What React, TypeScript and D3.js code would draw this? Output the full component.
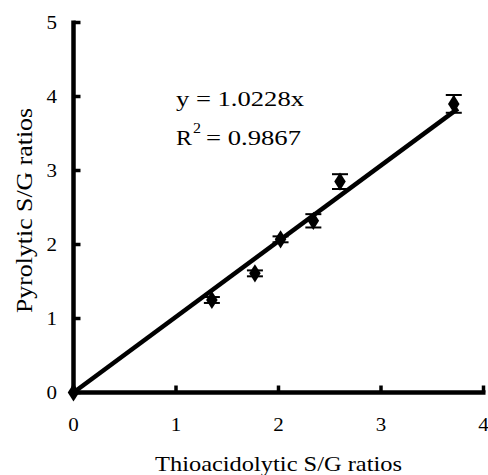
import React from "react";
import * as d3 from "d3";

const xValues = [0, 1.35, 1.77, 2.02, 2.34, 2.6, 3.71];
const yValues = [0, 1.25, 1.61, 2.07, 2.32, 2.85, 3.9];
const yErrors = [0, 0.04, 0.04, 0.04, 0.09, 0.1, 0.12];
const xTicks = [0, 1, 2, 3, 4];
const yTicks = [0, 1, 2, 3, 4, 5];
const slope = 1.0228;
const fitXMax = 3.75;
const eqText = "y = 1.0228x";
const r2Value = "= 0.9867";
const xTitle = "Thioacidolytic S/G ratios";
const yTitle = "Pyrolytic S/G ratios";

const W = 488;
const H = 475;
const FONT = "'Liberation Serif', 'Times New Roman', Times, serif";

export default function App() {
  const x = d3.scaleLinear().domain([0, 4]).range([73.5, 483.5]);
  const y = d3.scaleLinear().domain([0, 5]).range([392.5, 22.5]);
  const fit = d3
    .line<number>()
    .x((d) => x(d))
    .y((d) => y(slope * d));
  const diamond = d3.symbol().type(d3.symbolDiamond).size(95)();
  const ts: React.CSSProperties = { fontFamily: FONT };
  const digitW = 10.5;

  return (
    <svg
      width={W}
      height={H}
      style={{ position: "absolute", left: 0, top: 0, background: "#fff", fontFamily: FONT }}
    >
      {/* fit line */}
      <path d={fit([0, fitXMax]) || ""} stroke="#000" strokeWidth={4.5} fill="none" />

      {/* axes */}
      <line x1={x(0)} x2={x(0)} y1={y(0) + 2} y2={y(5) - 2} stroke="#000" strokeWidth={4.5} />
      <line x1={x(0) - 2} x2={x(4) + 2} y1={y(0)} y2={y(0)} stroke="#000" strokeWidth={4.5} />
      {yTicks.map((t) => (
        <line key={"yt" + t} x1={x(0)} x2={x(0) + 7} y1={y(t)} y2={y(t)} stroke="#000" strokeWidth={3.5} />
      ))}
      {xTicks.map((t) => (
        <line key={"xt" + t} x1={x(t)} x2={x(t)} y1={y(0)} y2={y(0) - 7} stroke="#000" strokeWidth={3.5} />
      ))}

      {/* tick labels */}
      {yTicks.map((t) => (
        <text
          key={"yl" + t}
          x={57 - digitW}
          y={y(t) + 6.5}
          fontSize={18}
          textLength={digitW}
          lengthAdjust="spacingAndGlyphs"
          style={ts}
        >
          {t}
        </text>
      ))}
      {xTicks.map((t) => (
        <text
          key={"xl" + t}
          x={x(t) - digitW / 2}
          y={431}
          fontSize={18}
          textLength={digitW}
          lengthAdjust="spacingAndGlyphs"
          style={ts}
        >
          {t}
        </text>
      ))}

      {/* error bars and markers */}
      {xValues.map((xv, i) => {
        const cx = x(xv);
        const cy = y(yValues[i]);
        const e = yErrors[i];
        return (
          <g key={"p" + i}>
            {e > 0 && (
              <g stroke="#000" strokeWidth={2}>
                <line x1={cx} x2={cx} y1={y(yValues[i] - e)} y2={y(yValues[i] + e)} />
                <line x1={cx - 8} x2={cx + 8} y1={y(yValues[i] - e)} y2={y(yValues[i] - e)} />
                <line x1={cx - 8} x2={cx + 8} y1={y(yValues[i] + e)} y2={y(yValues[i] + e)} />
              </g>
            )}
            <path d={diamond || ""} transform={`translate(${cx},${cy}) scale(1.1,1)`} fill="#000" />
          </g>
        );
      })}

      {/* equation */}
      <text x={176} y={106} fontSize={22} textLength={128} lengthAdjust="spacingAndGlyphs" style={ts}>
        {eqText}
      </text>
      <text x={176} y={145} fontSize={22} textLength={16} lengthAdjust="spacingAndGlyphs" style={ts}>
        R
      </text>
      <text x={193} y={133} fontSize={14} textLength={8} lengthAdjust="spacingAndGlyphs" style={ts}>
        2
      </text>
      <text x={206} y={145} fontSize={22} textLength={95} lengthAdjust="spacingAndGlyphs" style={ts}>
        {r2Value}
      </text>

      {/* axis titles */}
      <text x={155} y={471} fontSize={22} textLength={247} lengthAdjust="spacingAndGlyphs" style={ts}>
        {xTitle}
      </text>
      <text
        transform="translate(32,313) rotate(-90)"
        fontSize={24}
        textLength={205}
        lengthAdjust="spacingAndGlyphs"
        style={ts}
      >
        {yTitle}
      </text>
    </svg>
  );
}
